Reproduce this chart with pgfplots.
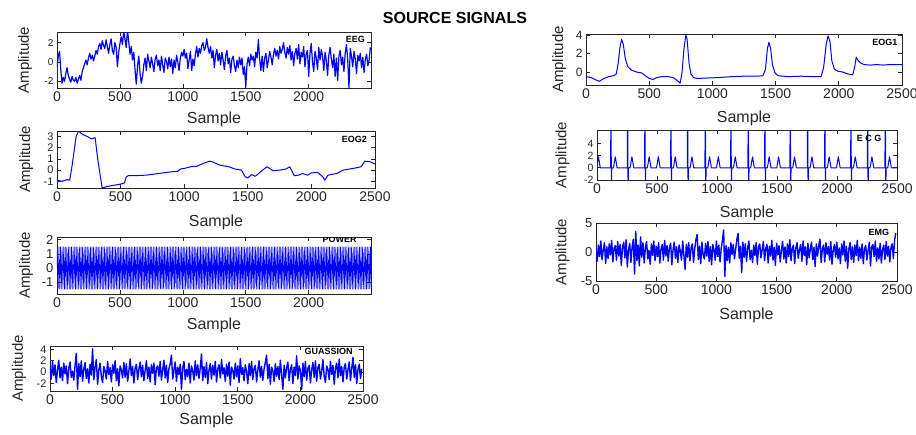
\documentclass[border=0pt]{standalone}
\usepackage{fontspec}
\setmainfont{Liberation Sans}
\usepackage{pgfplots}
\pgfplotsset{compat=1.18}

\pgfplotsset{
  sig/.style={scale only axis, anchor=north west, xmin=0, xmax=2500,
    xtick={0,500,1000,1500,2000,2500}, xlabel={Sample}, ylabel={Amplitude},
    axis line style={black!85, line width=0.9pt},
    every tick/.style={black!85, line width=0.7pt}, major tick length=4pt,
    tick align=inside,
    xticklabel style={font=\fontsize{14}{14}\selectfont, text=black!85},
    yticklabel style={text=black!85},
    xlabel style={font=\fontsize{16}{16}\selectfont, text=black!85},
    ylabel style={font=\fontsize{15}{15}\selectfont, text=black!85},
    /pgf/number format/assume math mode=true,
    /pgf/number format/1000 sep={}, scaled ticks=false},
  yfs/.style={yticklabel style={font=\fontsize{#1}{#1}\selectfont}},
  xl/.style={xlabel style={at={(axis description cs:0.5,#1)}, anchor=center}},
  yl/.style={ylabel style={at={(axis description cs:#1,0.5)}, anchor=center}},
  sigline/.style={blue, line width=#1, line join=round, mark=none},
}
\newcommand{\tagfont}{\bfseries\fontsize{9}{9}\selectfont}

\begin{document}
\begin{tikzpicture}
\useasboundingbox (0pt,0pt) rectangle (916pt,-434pt);
\node[font=\bfseries\fontsize{16}{16}\selectfont, anchor=base] at (455pt,-23pt) {SOURCE SIGNALS};

% EEG
\begin{axis}[sig, at={(57pt,-32pt)}, width=314pt, height=56pt, xmax=2495,
  ymin=-2.7, ymax=3.1, ytick={-2,0,2}, yfs=10, xl=-0.554, yl=-0.102]
\addplot[sigline=1.2pt] table[x expr=\coordindex*10, y index=0, header=false, row sep=\\] {
-0.5\\0.6\\1.1\\-0.8\\-2.2\\-1.6\\-2.0\\-1.2\\-0.6\\-1.4\\
-1.8\\-2.1\\-1.5\\-1.9\\-2.0\\-1.6\\-2.2\\-1.8\\-1.4\\-1.9\\
-1.0\\-0.6\\-0.2\\0.2\\-0.3\\0.4\\0.9\\0.3\\0.7\\0.1\\
0.6\\1.2\\0.8\\1.6\\1.9\\1.3\\2.2\\1.7\\1.4\\2.3\\
1.6\\0.9\\1.8\\2.4\\1.2\\0.8\\2.0\\1.5\\-0.5\\1.0\\
1.9\\2.6\\1.8\\3.2\\2.4\\1.5\\3.3\\2.1\\0.8\\1.6\\
0.2\\1.0\\-0.8\\-2.3\\-0.4\\0.6\\-1.2\\-2.2\\-1.5\\-0.3\\
0.4\\-0.9\\0.8\\0.1\\-0.6\\0.5\\-0.2\\-1.0\\0.3\\0.7\\
-0.4\\0.2\\-0.9\\0.6\\-0.3\\-1.1\\0.4\\0.1\\-0.7\\0.5\\
-0.5\\0.3\\-1.2\\0.2\\-0.6\\0.7\\0.0\\-0.9\\0.4\\1.0\\
0.6\\1.3\\0.4\\0.9\\-0.7\\0.2\\1.1\\-0.9\\0.3\\-0.4\\
0.8\\1.6\\0.5\\1.4\\0.9\\1.7\\2.0\\1.2\\1.5\\2.4\\
1.5\\0.9\\1.6\\0.4\\1.2\\-0.6\\0.7\\1.3\\0.1\\0.9\\
-0.3\\1.0\\0.2\\-0.8\\0.6\\1.2\\-0.2\\0.4\\-1.1\\0.3\\
0.6\\-0.4\\-1.0\\0.2\\-0.6\\0.5\\-0.3\\0.4\\-1.3\\-0.5\\
-2.6\\-0.2\\0.5\\-0.4\\0.8\\0.2\\0.6\\-0.5\\1.0\\0.4\\
2.3\\0.3\\-0.9\\0.6\\-1.0\\0.4\\0.9\\-0.6\\0.2\\1.1\\
0.5\\-0.3\\0.8\\1.4\\0.6\\1.2\\0.3\\1.6\\0.9\\1.3\\
2.0\\1.0\\0.4\\1.5\\0.8\\1.7\\0.2\\1.1\\-0.4\\0.9\\
1.4\\0.3\\1.8\\-0.2\\1.0\\0.5\\1.6\\-0.5\\0.8\\1.2\\
-1.5\\0.9\\1.9\\0.0\\-1.0\\1.1\\0.4\\-0.8\\1.5\\0.2\\
1.3\\0.6\\-0.9\\1.0\\0.2\\-1.4\\0.7\\1.5\\0.3\\-0.6\\
0.8\\-1.5\\0.4\\-1.9\\0.6\\1.2\\-0.3\\0.5\\-1.0\\0.9\\
1.8\\0.2\\-2.7\\1.4\\0.6\\-0.5\\1.1\\0.3\\-1.2\\0.7\\
0.1\\0.9\\-0.6\\0.5\\-1.1\\0.3\\0.8\\-0.4\\0.2\\1.5\\
};
\node[font=\tagfont] at (rel axis cs:0.95,0.875) {EEG};
\end{axis}

% EOG2
\begin{axis}[sig, at={(57pt,-131pt)}, width=318pt, height=57pt,
  ymin=-1.6, ymax=3.5, ytick={-1,0,1,2,3}, yfs=11, xl=-0.596, yl=-0.097]
\addplot[sigline=1pt] coordinates {
(0,-0.9) (40,-1.0) (80,-0.85) (100,-0.9) (120,0.5) (150,3.0) (170,3.5) (200,3.2)
(240,3.0) (270,2.8) (300,2.9) (320,1.0) (355,-1.6) (400,-1.45) (450,-1.35) (500,-1.25)
(530,-1.15) (545,-0.6) (560,-0.5) (600,-0.5) (700,-0.45) (800,-0.3) (900,-0.15) (950,-0.1)
(970,0.1) (1000,0.15) (1050,0.3) (1100,0.35) (1150,0.6) (1200,0.8) (1230,0.7) (1280,0.45)
(1350,0.3) (1400,0.1) (1450,0.0) (1480,-0.6) (1500,-0.7) (1530,-0.4) (1560,-0.55) (1600,-0.15)
(1650,0.3) (1700,-0.05) (1750,0.0) (1800,0.1) (1830,0.3) (1865,-0.5) (1900,-0.45) (1930,-0.3)
(1970,-0.45) (2000,-0.25) (2050,-0.2) (2090,-0.6) (2105,-0.9) (2130,-0.45) (2200,-0.3) (2250,0.0)
(2300,0.1) (2350,0.2) (2390,0.3) (2420,0.8) (2460,0.75) (2500,0.55)
};
\node[font=\tagfont] at (rel axis cs:0.935,0.86) {EOG2};
\end{axis}

% POWER
\begin{axis}[sig, at={(57pt,-237pt)}, width=314pt, height=57pt, xmax=2495,
  ymin=-1.85, ymax=2.2, ytick={-1,0,1,2}, yfs=13, xl=-0.544, yl=-0.099]
\addplot[sigline=0.6pt] table[x expr=\coordindex*3.125, y index=0, header=false, row sep=\\] {
0\\1.5\\0\\-1.5\\0\\1.5\\0\\-1.5\\0\\1.5\\0\\-1.5\\0\\1.5\\0\\-1.5\\0\\1.5\\0\\-1.5\\
0\\1.5\\0\\-1.5\\0\\1.5\\0\\-1.5\\0\\1.5\\0\\-1.5\\0\\1.5\\0\\-1.5\\0\\1.5\\0\\-1.5\\
0\\1.5\\0\\-1.5\\0\\1.5\\0\\-1.5\\0\\1.5\\0\\-1.5\\0\\1.5\\0\\-1.5\\0\\1.5\\0\\-1.5\\
0\\1.5\\0\\-1.5\\0\\1.5\\0\\-1.5\\0\\1.5\\0\\-1.5\\0\\1.5\\0\\-1.5\\0\\1.5\\0\\-1.5\\
0\\1.5\\0\\-1.5\\0\\1.5\\0\\-1.5\\0\\1.5\\0\\-1.5\\0\\1.5\\0\\-1.5\\0\\1.5\\0\\-1.5\\
0\\1.5\\0\\-1.5\\0\\1.5\\0\\-1.5\\0\\1.5\\0\\-1.5\\0\\1.5\\0\\-1.5\\0\\1.5\\0\\-1.5\\
0\\1.5\\0\\-1.5\\0\\1.5\\0\\-1.5\\0\\1.5\\0\\-1.5\\0\\1.5\\0\\-1.5\\0\\1.5\\0\\-1.5\\
0\\1.5\\0\\-1.5\\0\\1.5\\0\\-1.5\\0\\1.5\\0\\-1.5\\0\\1.5\\0\\-1.5\\0\\1.5\\0\\-1.5\\
0\\1.5\\0\\-1.5\\0\\1.5\\0\\-1.5\\0\\1.5\\0\\-1.5\\0\\1.5\\0\\-1.5\\0\\1.5\\0\\-1.5\\
0\\1.5\\0\\-1.5\\0\\1.5\\0\\-1.5\\0\\1.5\\0\\-1.5\\0\\1.5\\0\\-1.5\\0\\1.5\\0\\-1.5\\
0\\1.5\\0\\-1.5\\0\\1.5\\0\\-1.5\\0\\1.5\\0\\-1.5\\0\\1.5\\0\\-1.5\\0\\1.5\\0\\-1.5\\
0\\1.5\\0\\-1.5\\0\\1.5\\0\\-1.5\\0\\1.5\\0\\-1.5\\0\\1.5\\0\\-1.5\\0\\1.5\\0\\-1.5\\
0\\1.5\\0\\-1.5\\0\\1.5\\0\\-1.5\\0\\1.5\\0\\-1.5\\0\\1.5\\0\\-1.5\\0\\1.5\\0\\-1.5\\
0\\1.5\\0\\-1.5\\0\\1.5\\0\\-1.5\\0\\1.5\\0\\-1.5\\0\\1.5\\0\\-1.5\\0\\1.5\\0\\-1.5\\
0\\1.5\\0\\-1.5\\0\\1.5\\0\\-1.5\\0\\1.5\\0\\-1.5\\0\\1.5\\0\\-1.5\\0\\1.5\\0\\-1.5\\
0\\1.5\\0\\-1.5\\0\\1.5\\0\\-1.5\\0\\1.5\\0\\-1.5\\0\\1.5\\0\\-1.5\\0\\1.5\\0\\-1.5\\
0\\1.5\\0\\-1.5\\0\\1.5\\0\\-1.5\\0\\1.5\\0\\-1.5\\0\\1.5\\0\\-1.5\\0\\1.5\\0\\-1.5\\
0\\1.5\\0\\-1.5\\0\\1.5\\0\\-1.5\\0\\1.5\\0\\-1.5\\0\\1.5\\0\\-1.5\\0\\1.5\\0\\-1.5\\
0\\1.5\\0\\-1.5\\0\\1.5\\0\\-1.5\\0\\1.5\\0\\-1.5\\0\\1.5\\0\\-1.5\\0\\1.5\\0\\-1.5\\
0\\1.5\\0\\-1.5\\0\\1.5\\0\\-1.5\\0\\1.5\\0\\-1.5\\0\\1.5\\0\\-1.5\\0\\1.5\\0\\-1.5\\
0\\1.5\\0\\-1.5\\0\\1.5\\0\\-1.5\\0\\1.5\\0\\-1.5\\0\\1.5\\0\\-1.5\\0\\1.5\\0\\-1.5\\
0\\1.5\\0\\-1.5\\0\\1.5\\0\\-1.5\\0\\1.5\\0\\-1.5\\0\\1.5\\0\\-1.5\\0\\1.5\\0\\-1.5\\
0\\1.5\\0\\-1.5\\0\\1.5\\0\\-1.5\\0\\1.5\\0\\-1.5\\0\\1.5\\0\\-1.5\\0\\1.5\\0\\-1.5\\
0\\1.5\\0\\-1.5\\0\\1.5\\0\\-1.5\\0\\1.5\\0\\-1.5\\0\\1.5\\0\\-1.5\\0\\1.5\\0\\-1.5\\
0\\1.5\\0\\-1.5\\0\\1.5\\0\\-1.5\\0\\1.5\\0\\-1.5\\0\\1.5\\0\\-1.5\\0\\1.5\\0\\-1.5\\
0\\1.5\\0\\-1.5\\0\\1.5\\0\\-1.5\\0\\1.5\\0\\-1.5\\0\\1.5\\0\\-1.5\\0\\1.5\\0\\-1.5\\
0\\1.5\\0\\-1.5\\0\\1.5\\0\\-1.5\\0\\1.5\\0\\-1.5\\0\\1.5\\0\\-1.5\\0\\1.5\\0\\-1.5\\
0\\1.5\\0\\-1.5\\0\\1.5\\0\\-1.5\\0\\1.5\\0\\-1.5\\0\\1.5\\0\\-1.5\\0\\1.5\\0\\-1.5\\
0\\1.5\\0\\-1.5\\0\\1.5\\0\\-1.5\\0\\1.5\\0\\-1.5\\0\\1.5\\0\\-1.5\\0\\1.5\\0\\-1.5\\
0\\1.5\\0\\-1.5\\0\\1.5\\0\\-1.5\\0\\1.5\\0\\-1.5\\0\\1.5\\0\\-1.5\\0\\1.5\\0\\-1.5\\
0\\1.5\\0\\-1.5\\0\\1.5\\0\\-1.5\\0\\1.5\\0\\-1.5\\0\\1.5\\0\\-1.5\\0\\1.5\\0\\-1.5\\
0\\1.5\\0\\-1.5\\0\\1.5\\0\\-1.5\\0\\1.5\\0\\-1.5\\0\\1.5\\0\\-1.5\\0\\1.5\\0\\-1.5\\
0\\1.5\\0\\-1.5\\0\\1.5\\0\\-1.5\\0\\1.5\\0\\-1.5\\0\\1.5\\0\\-1.5\\0\\1.5\\0\\-1.5\\
0\\1.5\\0\\-1.5\\0\\1.5\\0\\-1.5\\0\\1.5\\0\\-1.5\\0\\1.5\\0\\-1.5\\0\\1.5\\0\\-1.5\\
0\\1.5\\0\\-1.5\\0\\1.5\\0\\-1.5\\0\\1.5\\0\\-1.5\\0\\1.5\\0\\-1.5\\0\\1.5\\0\\-1.5\\
0\\1.5\\0\\-1.5\\0\\1.5\\0\\-1.5\\0\\1.5\\0\\-1.5\\0\\1.5\\0\\-1.5\\0\\1.5\\0\\-1.5\\
0\\1.5\\0\\-1.5\\0\\1.5\\0\\-1.5\\0\\1.5\\0\\-1.5\\0\\1.5\\0\\-1.5\\0\\1.5\\0\\-1.5\\
0\\1.5\\0\\-1.5\\0\\1.5\\0\\-1.5\\0\\1.5\\0\\-1.5\\0\\1.5\\0\\-1.5\\0\\1.5\\0\\-1.5\\
0\\1.5\\0\\-1.5\\0\\1.5\\0\\-1.5\\0\\1.5\\0\\-1.5\\0\\1.5\\0\\-1.5\\0\\1.5\\0\\-1.5\\
0\\1.5\\0\\-1.5\\0\\1.5\\0\\-1.5\\0\\1.5\\0\\-1.5\\0\\1.5\\0\\-1.5\\0\\1.5\\0\\-1.5\\
};
\node[font=\tagfont] at (rel axis cs:0.9,0.95) {POWER};
\end{axis}

% GUASSION
\begin{axis}[sig, at={(50pt,-346pt)}, width=313pt, height=45pt,
  ymin=-3.3, ymax=4.6, ytick={-2,0,2,4}, yfs=11, xl=-0.644, yl=-0.099]
\addplot[sigline=1.4pt] table[x expr=\coordindex*10, y index=0, header=false, row sep=\\] {
0.8\\-1.2\\1.9\\-0.6\\1.3\\-1.8\\0.4\\2.1\\-1.0\\0.9\\
-1.5\\1.6\\-0.3\\1.1\\-2.0\\0.7\\1.8\\-0.9\\0.2\\-1.4\\
1.2\\3.3\\-3.0\\1.5\\-0.8\\2.0\\-1.6\\0.5\\1.7\\-1.1\\
0.6\\-1.9\\1.4\\-0.5\\4.1\\-1.3\\0.9\\2.2\\-2.1\\0.3\\
1.6\\-0.7\\-1.8\\1.0\\0.2\\-1.2\\1.9\\-0.4\\0.8\\-1.7\\
1.3\\-0.2\\2.0\\-1.5\\0.6\\-2.4\\1.1\\0.4\\-1.0\\1.7\\
-0.9\\1.5\\-1.6\\0.2\\2.3\\-0.6\\1.0\\-1.9\\0.7\\1.4\\
-1.3\\0.5\\1.8\\-0.8\\1.2\\-1.5\\0.3\\2.0\\-1.1\\0.9\\
-1.7\\1.3\\-0.2\\1.6\\-2.2\\0.8\\1.1\\-0.7\\1.9\\-1.4\\
0.4\\2.1\\-1.0\\1.2\\-1.8\\0.6\\1.5\\3.0\\-1.2\\0.3\\
1.8\\-1.6\\0.9\\-0.4\\1.4\\-3.0\\0.7\\1.9\\-1.3\\0.5\\
-0.8\\1.6\\-1.9\\1.1\\0.2\\-1.4\\2.0\\-0.6\\1.3\\-1.1\\
0.7\\3.2\\-1.5\\1.0\\-0.9\\1.7\\-2.0\\0.4\\1.5\\-1.2\\
1.2\\-0.5\\1.9\\-1.7\\0.6\\1.3\\-1.0\\2.2\\-0.3\\0.8\\
-1.6\\1.4\\-0.7\\1.8\\-2.3\\0.9\\0.3\\-1.2\\1.6\\-0.8\\
1.1\\-1.8\\2.4\\-0.4\\0.8\\-1.5\\1.3\\0.1\\-2.0\\1.5\\
-0.6\\1.9\\-1.3\\0.7\\1.2\\-1.7\\0.4\\2.0\\-0.9\\1.0\\
-1.4\\0.6\\1.7\\3.0\\-1.1\\1.4\\-2.1\\0.9\\0.2\\-1.6\\
1.5\\-0.7\\1.0\\-1.3\\2.1\\-0.5\\-3.0\\1.2\\-1.0\\0.8\\
1.8\\-1.5\\0.5\\1.3\\-2.0\\0.9\\-0.6\\2.9\\-1.2\\1.1\\
0.3\\-3.0\\1.6\\-0.8\\1.9\\-1.4\\0.6\\1.2\\-1.9\\0.4\\
1.7\\-0.9\\2.0\\-1.6\\0.8\\1.4\\-1.2\\0.2\\2.2\\-0.7\\
-1.8\\1.1\\0.5\\-1.3\\1.9\\-0.4\\1.2\\-2.1\\0.7\\1.6\\
-1.0\\2.3\\-0.6\\1.0\\-1.7\\0.9\\1.5\\-1.2\\0.4\\1.8\\
-1.5\\0.7\\2.6\\-0.9\\1.3\\-2.0\\0.5\\1.4\\-1.1\\0.6\\
};
\node[font=\tagfont] at (rel axis cs:0.89,0.89) {GUASSION};
\end{axis}

% EOG1
\begin{axis}[sig, at={(586pt,-34pt)}, width=316pt, height=51pt,
  ymin=-1.4, ymax=4.1, ytick={0,2,4}, yfs=12, xl=-0.647, yl=-0.085]
\addplot[sigline=1pt] coordinates {
(0,-0.5) (40,-0.6) (70,-0.8) (105,-1.0) (140,-0.7) (180,-0.5) (220,-0.4) (240,-0.2)
(255,1.0) (270,2.8) (282,3.5) (295,3.0) (310,1.5) (330,0.6) (360,0.2) (400,0.0)
(440,-0.1) (470,-0.4) (500,-0.7) (530,-0.8) (560,-0.6) (600,-0.5) (650,-0.5) (690,-0.6)
(720,-0.9) (745,-1.2) (760,0.0) (775,2.5) (790,4.0) (800,3.5) (815,1.0) (830,-0.2)
(850,-0.6) (880,-0.7) (950,-0.65) (1050,-0.6) (1150,-0.5) (1250,-0.45) (1350,-0.45) (1400,-0.4)
(1420,0.3) (1435,2.5) (1447,3.2) (1460,2.6) (1475,0.8) (1495,-0.1) (1520,-0.4) (1600,-0.5)
(1700,-0.45) (1800,-0.5) (1860,-0.5) (1880,0.5) (1900,3.0) (1915,3.9) (1930,3.3) (1945,1.2)
(1965,0.3) (1990,0.1) (2030,0.0) (2070,-0.2) (2110,-0.3) (2125,0.5) (2138,1.6) (2150,1.3)
(2170,1.0) (2200,0.8) (2250,0.75) (2300,0.8) (2350,0.75) (2400,0.8) (2450,0.8) (2500,0.8)
};
\node[font=\tagfont] at (rel axis cs:0.946,0.84) {EOG1};
\end{axis}

% ECG
\begin{axis}[sig, at={(597pt,-130pt)}, width=300pt, height=50pt,
  ymin=-2, ymax=6.2, ytick={-2,0,2,4}, yfs=10.5, xl=-0.66, yl=-0.115]
\addplot[sigline=1pt] coordinates {
(0,0.3) (5,1.0) (12,1.8) (19,1.0) (27,0)
(113,0) (117,12) (120,-6) (123,0) (137,0) (145,1.0) (152,1.8) (159,1.0) (167,0)
(252,0) (256,12) (259,-6) (262,0) (276,0) (284,1.0) (291,1.8) (298,1.0) (306,0)
(396,0) (400,12) (403,-6) (406,0) (420,0) (428,1.0) (435,1.8) (442,1.0) (450,0)
(496,0) (504,1.0) (511,1.8) (518,1.0) (526,0)
(613,0) (617,12) (620,-6) (623,0) (637,0) (645,1.0) (652,1.8) (659,1.0) (667,0)
(752,0) (756,12) (759,-6) (762,0) (776,0) (784,1.0) (791,1.8) (798,1.0) (806,0)
(899,0) (903,12) (906,-6) (909,0) (923,0) (931,1.0) (938,1.8) (945,1.0) (953,0)
(996,0) (1004,1.0) (1011,1.8) (1018,1.0) (1026,0)
(1113,0) (1117,12) (1120,-6) (1123,0) (1137,0) (1145,1.0) (1152,1.8) (1159,1.0) (1167,0)
(1257,0) (1261,12) (1264,-6) (1267,0) (1281,0) (1289,1.0) (1296,1.8) (1303,1.0) (1311,0)
(1396,0) (1400,12) (1403,-6) (1406,0) (1420,0) (1428,1.0) (1435,1.8) (1442,1.0) (1450,0)
(1498,0) (1506,1.0) (1513,1.8) (1520,1.0) (1528,0)
(1607,0) (1611,12) (1614,-6) (1617,0) (1631,0) (1639,1.0) (1646,1.8) (1653,1.0) (1661,0)
(1752,0) (1756,12) (1759,-6) (1762,0) (1776,0) (1784,1.0) (1791,1.8) (1798,1.0) (1806,0)
(1896,0) (1900,12) (1903,-6) (1906,0) (1920,0) (1928,1.0) (1935,1.8) (1942,1.0) (1950,0)
(1996,0) (2004,1.0) (2011,1.8) (2018,1.0) (2026,0)
(2113,0) (2117,12) (2120,-6) (2123,0) (2137,0) (2145,1.0) (2152,1.8) (2159,1.0) (2167,0)
(2252,0) (2256,12) (2259,-6) (2262,0) (2276,0) (2284,1.0) (2291,1.8) (2298,1.0) (2306,0)
(2399,0) (2403,12) (2406,-6) (2409,0) (2423,0) (2431,1.0) (2438,1.8) (2445,1.0) (2453,0)
(2500,0)
};
\node[font=\tagfont] at (rel axis cs:0.907,0.84) {E C G};
\end{axis}

% EMG
\begin{axis}[sig, at={(596pt,-223pt)}, width=301pt, height=58pt,
  ymin=-5, ymax=5, ytick={-5,0,5}, yfs=13, xl=-0.586, yl=-0.111]
\addplot[sigline=1.4pt] table[x expr=\coordindex*10, y index=0, header=false, row sep=\\] {
0.5\\-1.6\\1.2\\-0.8\\1.9\\-1.3\\0.3\\1.6\\-2.0\\0.9\\
-1.1\\1.4\\-0.5\\2.0\\-1.7\\0.6\\1.1\\-1.4\\1.8\\-0.7\\
1.3\\-2.3\\0.8\\1.7\\-1.0\\2.1\\-2.6\\0.4\\1.5\\-1.8\\
0.9\\2.2\\-3.8\\3.5\\-1.5\\1.2\\-2.4\\2.6\\-0.9\\1.6\\
-1.9\\0.7\\1.8\\-1.2\\0.3\\-2.1\\1.4\\-0.6\\1.9\\-1.5\\
1.0\\-0.8\\1.6\\-1.9\\0.5\\1.3\\-1.4\\2.0\\-0.7\\1.1\\
-1.6\\0.8\\1.5\\-2.2\\0.4\\1.7\\-1.1\\0.9\\-1.8\\1.2\\
0.2\\-1.4\\1.9\\-0.6\\-3.0\\1.3\\-0.9\\1.6\\-1.5\\0.7\\
1.4\\-1.8\\0.6\\2.1\\3.0\\-1.3\\1.0\\-2.0\\1.7\\-0.5\\
-1.2\\1.5\\-0.7\\1.8\\-1.6\\0.9\\-2.2\\1.3\\0.4\\-1.4\\
1.9\\-0.8\\1.2\\-1.7\\0.6\\2.0\\3.8\\-4.2\\1.1\\-1.5\\
0.8\\-1.9\\1.6\\-0.4\\1.3\\-1.2\\0.5\\2.2\\3.2\\-1.1\\
1.0\\-3.5\\1.7\\-0.9\\1.4\\-1.6\\0.7\\1.9\\-1.3\\0.3\\
-1.8\\1.2\\-0.6\\1.6\\-2.1\\0.9\\1.4\\-1.0\\0.4\\1.8\\
-1.5\\0.6\\1.3\\-1.9\\1.0\\-0.7\\2.0\\-1.4\\0.8\\-2.3\\
1.5\\-0.5\\1.1\\-1.7\\0.3\\1.8\\-1.2\\0.9\\-1.9\\1.4\\
-0.8\\2.1\\-1.5\\0.6\\1.2\\-2.0\\0.7\\1.6\\-1.1\\0.4\\
1.3\\-1.6\\1.9\\-0.6\\0.9\\-2.2\\1.5\\-1.0\\0.5\\1.7\\
-1.3\\0.8\\-2.5\\1.4\\-0.7\\1.1\\2.2\\-1.8\\0.6\\1.2\\
-1.7\\1.6\\-0.4\\0.9\\-1.4\\1.8\\-2.1\\0.3\\1.3\\-0.9\\
1.7\\-1.2\\0.7\\-2.0\\1.4\\-0.5\\1.9\\-1.6\\1.0\\-2.8\\
0.5\\1.6\\-1.3\\0.9\\-1.8\\1.2\\-0.6\\2.0\\-1.5\\0.8\\
-1.1\\1.4\\-2.0\\0.6\\1.1\\-1.4\\0.3\\1.7\\-2.4\\0.9\\
1.3\\-0.8\\1.9\\-1.6\\0.7\\-1.2\\1.5\\-1.9\\0.4\\1.2\\
-1.3\\1.8\\-0.7\\1.0\\-1.7\\0.8\\1.4\\-1.1\\2.0\\3.3\\
};
\node[font=\tagfont] at (rel axis cs:0.94,0.83) {EMG};
\end{axis}
\end{tikzpicture}
\end{document}
